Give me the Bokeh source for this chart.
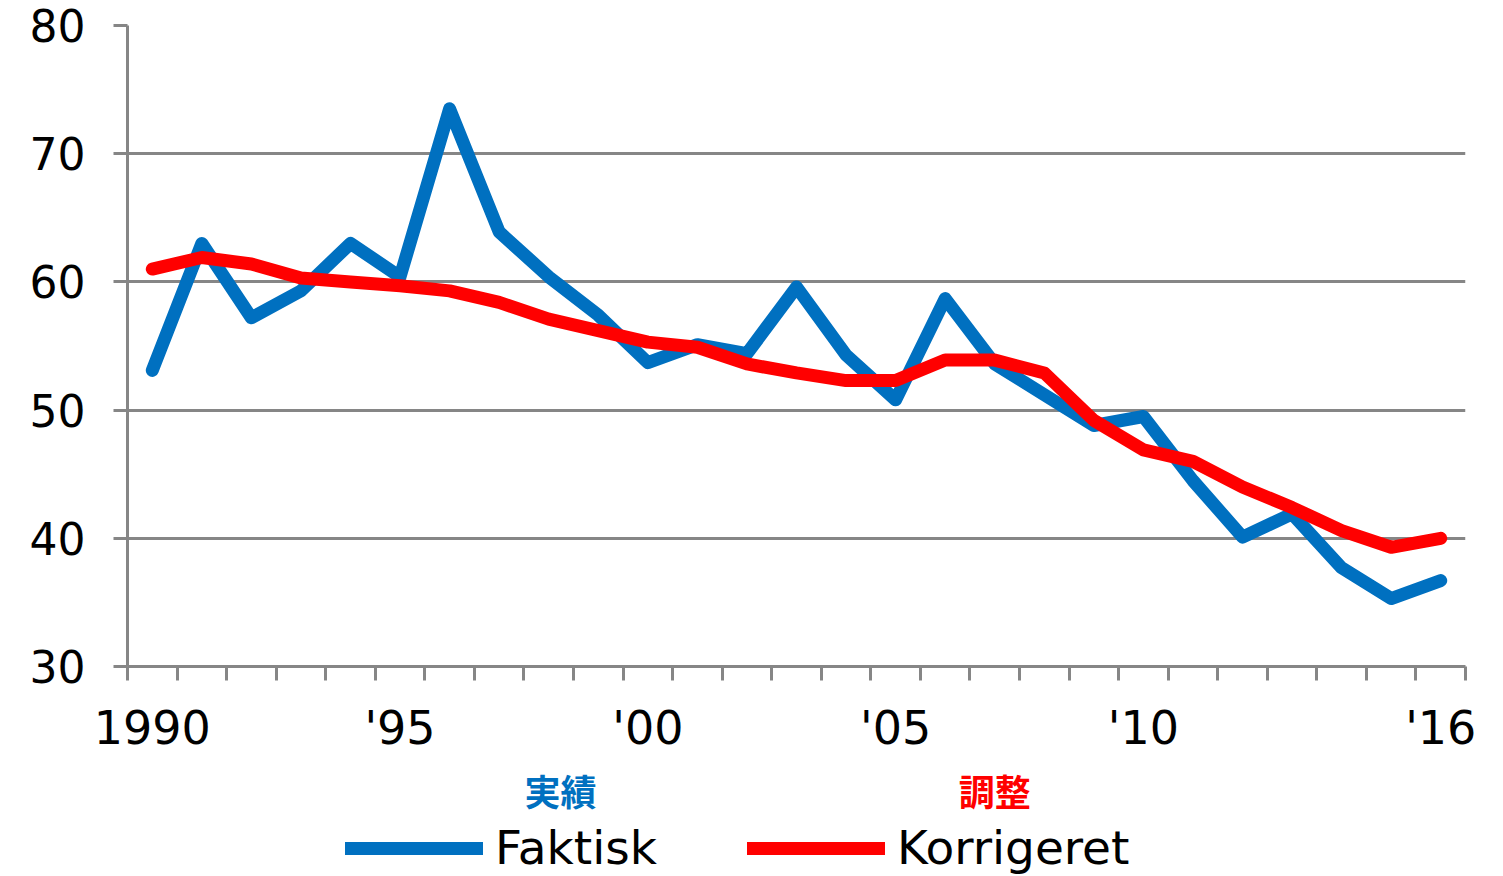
from bokeh.plotting import figure
from bokeh.layouts import column
from bokeh.models import FixedTicker, Legend, LegendItem, Range1d
from bokeh.core.properties import value
from bokeh.embed import file_html
from bokeh.resources import INLINE

years = list(range(1990, 2017))
faktisk = [53.1, 63.0, 57.2, 59.3, 63.0, 60.4, 73.5, 63.9, 60.4, 57.4,
           53.7, 55.1, 54.4, 59.6, 54.3, 50.8, 58.7, 53.6, 51.2, 48.8,
           49.5, 44.5, 40.1, 41.9, 37.7, 35.3, 36.7]
korrigeret = [61.0, 61.9, 61.4, 60.3, 60.0, 59.7, 59.3, 58.4, 57.1, 56.2,
              55.3, 54.9, 53.6, 52.9, 52.3, 52.3, 53.9, 53.9, 52.9, 49.2,
              46.9, 46.0, 44.0, 42.4, 40.6, 39.3, 40.0]
tick_years = [1990, 1995, 2000, 2005, 2010, 2016]
tick_labels = ["1990", "'95", "'00", "'05", "'10", "'16"]
y_ticks = [30, 40, 50, 60, 70, 80]
series_names = ["Faktisk", "Korrigeret"]
jp_labels = ["実績", "調整"]
jp_x = [1998.24, 2007.0]

BLUE = "#0070C0"
RED = "#FF0000"
GRAY = "#868686"
FONT = "DejaVu Sans"
LW = 13

xr = Range1d(years[0] - 0.5, years[-1] + 0.5)

p = figure(frame_width=1338, frame_height=641,
           x_range=xr, y_range=Range1d(30, 80),
           output_backend="svg", toolbar_location=None,
           min_border_left=127, min_border_right=30,
           min_border_top=25, min_border_bottom=96)
p.outline_line_color = None
p.background_fill_color = "white"
p.border_fill_color = "white"

p.xgrid.grid_line_color = None
p.ygrid.grid_line_color = GRAY
p.ygrid.grid_line_width = 3
p.ygrid.ticker = FixedTicker(ticks=y_ticks)

ya = p.yaxis[0]
ya.ticker = FixedTicker(ticks=y_ticks)
ya.axis_line_color = GRAY
ya.axis_line_width = 3
ya.major_tick_line_color = GRAY
ya.major_tick_line_width = 3
ya.major_tick_out = 14
ya.major_tick_in = 0
ya.minor_tick_line_color = None
ya.major_label_text_font = FONT
ya.major_label_text_font_size = "44px"
ya.major_label_text_color = "black"
ya.major_label_standoff = 28

xa = p.xaxis[0]
xa.ticker = FixedTicker(ticks=tick_years,
                        minor_ticks=[y - 0.5 for y in years] + [years[-1] + 0.5])
xa.major_label_overrides = {y: l for y, l in zip(tick_years, tick_labels)}
xa.axis_line_color = GRAY
xa.axis_line_width = 3
xa.major_tick_line_color = None
xa.major_tick_out = 0
xa.major_tick_in = 0
xa.minor_tick_line_color = GRAY
xa.minor_tick_line_width = 3
xa.minor_tick_out = 14
xa.minor_tick_in = 0
xa.major_label_text_font = FONT
xa.major_label_text_font_size = "46px"
xa.major_label_text_color = "black"
xa.major_label_standoff = 20

p.line(years, faktisk, line_color=BLUE, line_width=LW,
       line_join="round", line_cap="round")
p.line(years, korrigeret, line_color=RED, line_width=LW,
       line_join="round", line_cap="round")

# bottom strip: Japanese labels and legend
p2 = figure(frame_width=1338, frame_height=113,
            x_range=xr, y_range=Range1d(0, 1),
            output_backend="svg", toolbar_location=None,
            x_axis_type=None, y_axis_type=None,
            min_border_left=127, min_border_right=30,
            min_border_top=0, min_border_bottom=0)
p2.outline_line_color = None
p2.xgrid.grid_line_color = None
p2.ygrid.grid_line_color = None
p2.border_fill_color = "white"

p2.text(x=jp_x, y=[0.76, 0.76], text=jp_labels,
        text_color=[BLUE, RED], text_font=value("Noto Sans CJK JP"),
        text_font_style="bold", text_font_size="36px",
        text_align="center", text_baseline="middle")

# legend proxies (same series; they fall outside this strip's range)
d1 = p2.line(years, faktisk, line_color=BLUE, line_width=LW, line_cap="round")
d2 = p2.line(years, korrigeret, line_color=RED, line_width=LW, line_cap="round")

legend = Legend(items=[LegendItem(label=series_names[0], renderers=[d1]),
                       LegendItem(label=series_names[1], renderers=[d2])],
                orientation="horizontal", location=(218, 0),
                glyph_width=138, glyph_height=20,
                label_text_font=FONT, label_text_font_size="47px",
                label_text_color="black", label_standoff=12,
                spacing=90, padding=0, margin=0,
                border_line_color=None, background_fill_alpha=0)
p2.add_layout(legend, "center")

layout = column(p, p2, spacing=0)
open("out.html", "w").write(file_html(layout, INLINE))
